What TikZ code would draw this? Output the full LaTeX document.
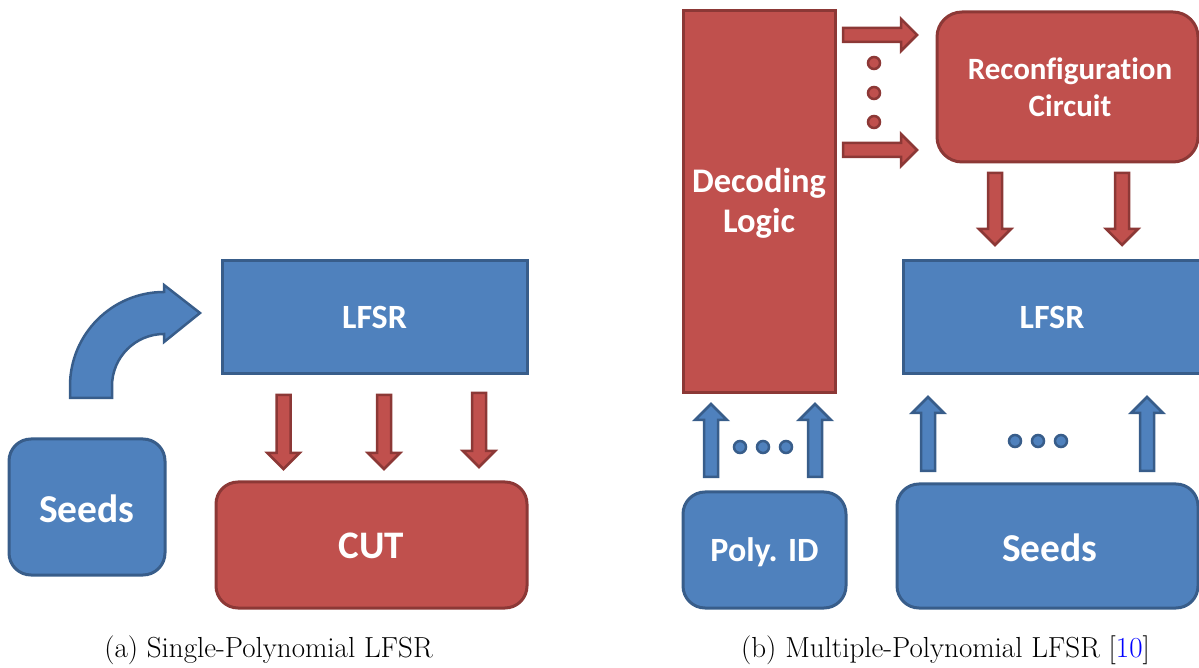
\documentclass[tikz,border=0pt]{standalone}
\usepackage{fontspec}
\newfontfamily\boxfont[BoldFont={Carlito Bold}, Ligatures=NoCommon]{Carlito}
\definecolor{bfill}{HTML}{4F81BD}
\definecolor{bline}{HTML}{385D8A}
\definecolor{rfill}{HTML}{C0504D}
\definecolor{rline}{HTML}{8C3836}
\definecolor{citeblue}{HTML}{0000FF}
% block arrow: #1 style, (#2,#3) tail centre, #4 direction, #5 length
\newcommand\FatArrow[5]{%
  \draw[#1, shift={(#2,#3)}, rotate=#4]
    (0,-7) -- (#5-16,-7) -- (#5-16,-16) -- (#5,0) -- (#5-16,16) -- (#5-16,7) -- (0,7) -- cycle;}
\begin{document}
\begin{tikzpicture}[x=1pt,y=1pt,
  bluebox/.style={draw=bline, fill=bfill, line width=3pt},
  redbox/.style={draw=rline, fill=rfill, line width=3pt},
  boxtext/.style={text=white, align=center, font=\boxfont\bfseries\fontsize{#1}{40}\selectfont},
  bluearrow/.style={draw=bline, fill=bfill, line width=2.5pt, line join=miter},
  redarrow/.style={draw=rline, fill=rfill, line width=2.5pt, line join=miter},
  bluedot/.style={draw=bline, fill=bfill, line width=2.5pt},
  reddot/.style={draw=rline, fill=rfill, line width=2.5pt},
  caption/.style={font=\fontsize{29}{33}\selectfont}]
\useasboundingbox (0,0) rectangle (1199,667);

% ---------- (a) single-polynomial LFSR ----------
\draw[bluebox] (222,293) rectangle (527,406);
\node[boxtext=34] (lfsrA) at (374.5,349.5) {LFSR};
\draw[bluebox, rounded corners=22pt] (9,92) rectangle (165,228);
\node[boxtext=39.5] (seedsA) at (87,158) {Seeds};
\draw[redbox, rounded corners=22pt] (216,59) rectangle (527,185);
\node[boxtext=39] (cutA) at (371.5,121) {CUT};

% curved arrow from the seeds up into the LFSR
\draw[bluearrow] (70,269) -- (70,281) arc[start angle=180, end angle=90, radius=94]
  -- (164,382) -- (200,354) -- (164,325) -- (164,333)
  arc[start angle=90, end angle=180, radius=52] -- (112,269) -- cycle;

% LFSR outputs into the CUT
\FatArrow{redarrow}{283.5}{272}{-90}{74}
\FatArrow{redarrow}{384}{272}{-90}{74}
\FatArrow{redarrow}{479}{274}{-90}{74}

% ---------- (b) multiple-polynomial LFSR ----------
\draw[redbox] (683,274) rectangle (835,656);
\node[boxtext=34.5] (dec) at (759,464) {Decoding\\Logic};

\draw[redbox, rounded corners=25pt] (937,505) rectangle (1198,655);
\node[text=white, align=center, font=\boxfont\bfseries\fontsize{31}{37}\selectfont] (rec) at (1070,580) {Reconfiguration\\Circuit};

\draw[bluebox] (903,293) rectangle (1230,406);
\node[boxtext=34] (lfsrB) at (1052,349.5) {LFSR};

\draw[bluebox, rounded corners=22pt] (683,59) rectangle (846,175);
\node[boxtext=34] (poly) at (764.5,115) {Poly. ID};

\draw[bluebox, rounded corners=22pt] (897,59) rectangle (1198,183);
\node[boxtext=39.5] (seedsB) at (1050,119) {Seeds};

% decoder outputs to the reconfiguration circuit
\FatArrow{redarrow}{843}{632}{0}{74}
\FatArrow{redarrow}{843}{517}{0}{74}
\foreach \yy in {604,574,545} \draw[reddot] (874,\yy) circle[radius=6];

% reconfiguration circuit into the LFSR
\FatArrow{redarrow}{995}{494}{-90}{72}
\FatArrow{redarrow}{1122}{494}{-90}{72}

% polynomial id into the decoder
\FatArrow{bluearrow}{711}{190}{90}{73}
\FatArrow{bluearrow}{815}{190}{90}{73}
\foreach \xx in {740,763,786} \draw[bluedot] (\xx,220) circle[radius=6];

% seeds into the LFSR
\FatArrow{bluearrow}{928}{196}{90}{74}
\FatArrow{bluearrow}{1147}{196}{90}{74}
\foreach \xx in {1015,1038,1061} \draw[bluedot] (\xx,226) circle[radius=6];

% captions
\node[caption] (capA) at (268.5,17) {(a) Single-Polynomial LFSR};
\node[caption] (capB) at (945.5,17) {(b) Multiple-Polynomial LFSR [\textcolor{citeblue}{10}]};
\end{tikzpicture}
\end{document}
